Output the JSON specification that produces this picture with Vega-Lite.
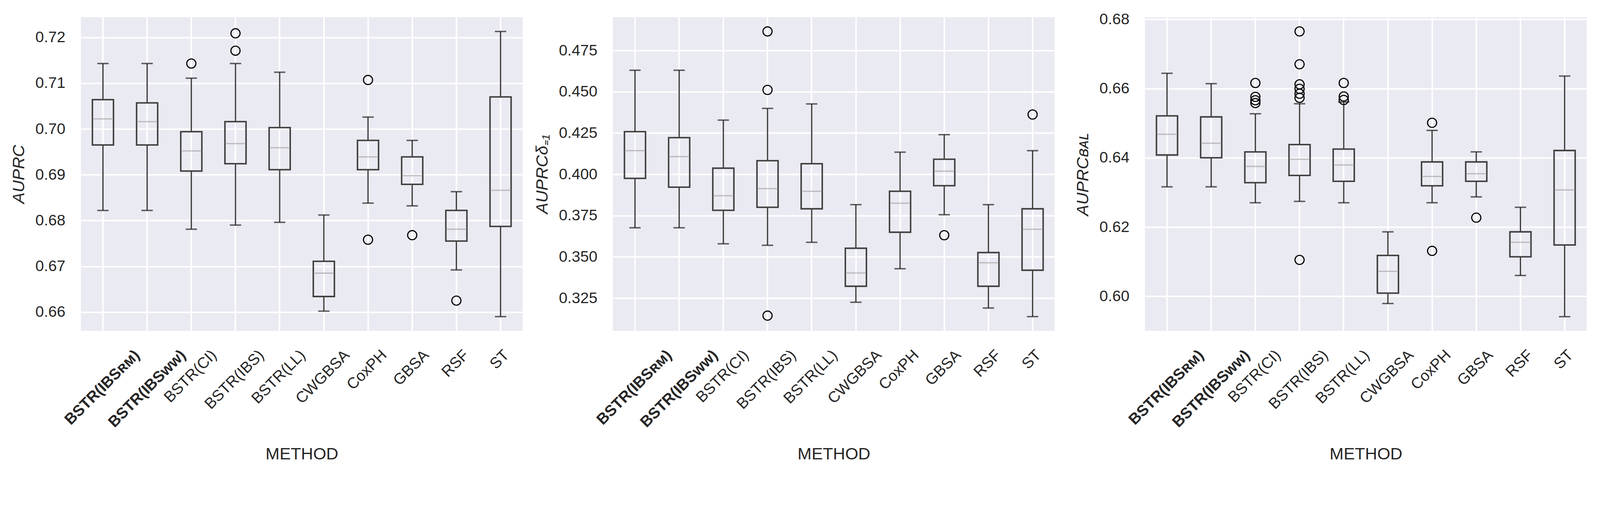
{
  "$schema": "https://vega.github.io/schema/vega-lite/v6.json",
  "background": "white",
  "padding": {"left": 27, "top": 29, "right": 5, "bottom": 5},
  "bounds": "flush",
  "spacing": 231,
  "config": {
    "font": "Liberation Sans",
    "view": {"stroke": null, "fill": "#EAEAF2"},
    "axis": {
      "grid": true, "gridColor": "#FFFFFF", "gridWidth": 3.75, "domain": false, "ticks": false,
      "labelFont": "Liberation Sans", "labelFontSize": 39.5, "labelColor": "#262626",
      "titleFont": "Liberation Sans", "titleFontSize": 43, "titleColor": "#262626", "titleFontWeight": "normal"
    },
    "axisX": {
      "grid": true, "bandPosition": 0.5, "labelAngle": -45, "labelAlign": "right", "labelBaseline": "top", "labelPadding": 42, "labelLimit": 0, "titlePadding": 94,
      "labelFontWeight": {"condition": {"test": "indexof(datum.value, 'IBSʀᴍ') >= 0 || indexof(datum.value, 'IBSᴡᴡ') >= 0", "value": "bold"}, "value": "normal"},
      "labelOffset": {"condition": [
        {"test": "indexof(datum.value, 'IBSʀᴍ') >= 0", "value": 74},
        {"test": "indexof(datum.value, 'IBSᴡᴡ') >= 0", "value": 79},
        {"test": "datum.value === 'BSTR(CI)'", "value": 45},
        {"test": "datum.value === 'BSTR(IBS)'", "value": 53},
        {"test": "datum.value === 'BSTR(LL)'", "value": 46},
        {"test": "datum.value === 'CWGBSA'", "value": 46},
        {"test": "datum.value === 'CoxPH'", "value": 28},
        {"test": "datum.value === 'GBSA'", "value": 23},
        {"test": "datum.value === 'RSF'", "value": 12}
      ], "value": 2}
    }
  },
  "datasets": {
    "s1": [
      {"method": "BSTR(IBSʀᴍ)", "lo": 0.6822, "q1": 0.6965, "med": 0.7022, "q3": 0.7064, "hi": 0.7143},
      {"method": "BSTR(IBSᴡᴡ)", "lo": 0.6822, "q1": 0.6965, "med": 0.7016, "q3": 0.7057, "hi": 0.7143},
      {"method": "BSTR(CI)", "lo": 0.6781, "q1": 0.6908, "med": 0.6952, "q3": 0.6994, "hi": 0.7111},
      {"method": "BSTR(IBS)", "lo": 0.6790, "q1": 0.6924, "med": 0.6968, "q3": 0.7016, "hi": 0.7143},
      {"method": "BSTR(LL)", "lo": 0.6796, "q1": 0.6911, "med": 0.6959, "q3": 0.7003, "hi": 0.7124},
      {"method": "CWGBSA", "lo": 0.6602, "q1": 0.6634, "med": 0.6685, "q3": 0.6711, "hi": 0.6812},
      {"method": "CoxPH", "lo": 0.6838, "q1": 0.6911, "med": 0.6939, "q3": 0.6975, "hi": 0.7026},
      {"method": "GBSA", "lo": 0.6832, "q1": 0.6879, "med": 0.6898, "q3": 0.6939, "hi": 0.6975},
      {"method": "RSF", "lo": 0.6692, "q1": 0.6755, "med": 0.6781, "q3": 0.6822, "hi": 0.6863},
      {"method": "ST", "lo": 0.6590, "q1": 0.6787, "med": 0.6866, "q3": 0.7070, "hi": 0.7213}
    ],
    "o1": [
      {"method": "BSTR(CI)", "v": 0.7143},
      {"method": "BSTR(IBS)", "v": 0.7171},
      {"method": "BSTR(IBS)", "v": 0.7209},
      {"method": "CoxPH", "v": 0.7107},
      {"method": "CoxPH", "v": 0.6758},
      {"method": "GBSA", "v": 0.6768},
      {"method": "RSF", "v": 0.6625}
    ],
    "s2": [
      {"method": "BSTR(IBSʀᴍ)", "lo": 0.3676, "q1": 0.3975, "med": 0.4143, "q3": 0.4258, "hi": 0.4630},
      {"method": "BSTR(IBSᴡᴡ)", "lo": 0.3676, "q1": 0.3922, "med": 0.4107, "q3": 0.4222, "hi": 0.4630},
      {"method": "BSTR(CI)", "lo": 0.3579, "q1": 0.3782, "med": 0.3870, "q3": 0.4037, "hi": 0.4328},
      {"method": "BSTR(IBS)", "lo": 0.3570, "q1": 0.3800, "med": 0.3913, "q3": 0.4082, "hi": 0.4399},
      {"method": "BSTR(LL)", "lo": 0.3588, "q1": 0.3791, "med": 0.3897, "q3": 0.4064, "hi": 0.4426},
      {"method": "CWGBSA", "lo": 0.3225, "q1": 0.3322, "med": 0.3402, "q3": 0.3552, "hi": 0.3816},
      {"method": "CoxPH", "lo": 0.3428, "q1": 0.3649, "med": 0.3825, "q3": 0.3897, "hi": 0.4134},
      {"method": "GBSA", "lo": 0.3755, "q1": 0.3931, "med": 0.4019, "q3": 0.4091, "hi": 0.4240},
      {"method": "RSF", "lo": 0.3190, "q1": 0.3322, "med": 0.3464, "q3": 0.3526, "hi": 0.3816},
      {"method": "ST", "lo": 0.3138, "q1": 0.3419, "med": 0.3667, "q3": 0.3791, "hi": 0.4143}
    ],
    "o2": [
      {"method": "BSTR(IBS)", "v": 0.4865},
      {"method": "BSTR(IBS)", "v": 0.4511},
      {"method": "BSTR(IBS)", "v": 0.3144},
      {"method": "GBSA", "v": 0.3631},
      {"method": "ST", "v": 0.4362}
    ],
    "s3": [
      {"method": "BSTR(IBSʀᴍ)", "lo": 0.6316, "q1": 0.6408, "med": 0.6468, "q3": 0.6521, "hi": 0.6644},
      {"method": "BSTR(IBSᴡᴡ)", "lo": 0.6316, "q1": 0.6400, "med": 0.6442, "q3": 0.6518, "hi": 0.6614},
      {"method": "BSTR(CI)", "lo": 0.6270, "q1": 0.6328, "med": 0.6375, "q3": 0.6417, "hi": 0.6527},
      {"method": "BSTR(IBS)", "lo": 0.6274, "q1": 0.6349, "med": 0.6396, "q3": 0.6438, "hi": 0.6556},
      {"method": "BSTR(LL)", "lo": 0.6270, "q1": 0.6332, "med": 0.6379, "q3": 0.6425, "hi": 0.6561},
      {"method": "CWGBSA", "lo": 0.5979, "q1": 0.6009, "med": 0.6072, "q3": 0.6118, "hi": 0.6186},
      {"method": "CoxPH", "lo": 0.6270, "q1": 0.6319, "med": 0.6346, "q3": 0.6388, "hi": 0.6479},
      {"method": "GBSA", "lo": 0.6287, "q1": 0.6332, "med": 0.6354, "q3": 0.6388, "hi": 0.6417},
      {"method": "RSF", "lo": 0.6060, "q1": 0.6114, "med": 0.6156, "q3": 0.6186, "hi": 0.6257},
      {"method": "ST", "lo": 0.5941, "q1": 0.6148, "med": 0.6307, "q3": 0.6421, "hi": 0.6636}
    ],
    "o3": [
      {"method": "BSTR(CI)", "v": 0.6616},
      {"method": "BSTR(CI)", "v": 0.6576},
      {"method": "BSTR(CI)", "v": 0.6566},
      {"method": "BSTR(CI)", "v": 0.6558},
      {"method": "BSTR(IBS)", "v": 0.6765},
      {"method": "BSTR(IBS)", "v": 0.6670},
      {"method": "BSTR(IBS)", "v": 0.6612},
      {"method": "BSTR(IBS)", "v": 0.6599},
      {"method": "BSTR(IBS)", "v": 0.6585},
      {"method": "BSTR(IBS)", "v": 0.6573},
      {"method": "BSTR(IBS)", "v": 0.6105},
      {"method": "BSTR(LL)", "v": 0.6616},
      {"method": "BSTR(LL)", "v": 0.6577},
      {"method": "BSTR(LL)", "v": 0.6567},
      {"method": "CoxPH", "v": 0.6501},
      {"method": "CoxPH", "v": 0.6131},
      {"method": "GBSA", "v": 0.6227}
    ]
  },
  "hconcat": [
    {
      "width": 1131, "height": 803,
      "encoding": {
        "x": {"field": "method", "type": "nominal", "sort": null,
          "scale": {"type": "band", "paddingInner": 0, "paddingOuter": 0, "domain": ["BSTR(IBSʀᴍ)", "BSTR(IBSᴡᴡ)", "BSTR(CI)", "BSTR(IBS)", "BSTR(LL)", "CWGBSA", "CoxPH", "GBSA", "RSF", "ST"]},
          "axis": {"title": "METHOD"}
        }
      },
      "layer": [
        {"data": {"name": "s1"}, "mark": {"type": "rule", "color": "#3f3f3f", "strokeWidth": 3.3},
          "encoding": {"y": {"field": "lo", "type": "quantitative", "scale": {"domain": [0.65589, 0.72442], "nice": false, "zero": false},
            "axis": {"title": "AUPRC", "titleFontStyle": "italic", "values": [0.66, 0.67, 0.68, 0.69, 0.70, 0.71, 0.72], "format": ".2f", "labelPadding": 40, "titlePadding": 20}},
            "y2": {"field": "q1"}}},
        {"data": {"name": "s1"}, "mark": {"type": "rule", "color": "#3f3f3f", "strokeWidth": 3.3},
          "encoding": {"y": {"field": "q3", "type": "quantitative"}, "y2": {"field": "hi"}}},
        {"data": {"name": "s1"}, "mark": {"type": "bar", "size": 54, "fillOpacity": 0, "stroke": "#3f3f3f", "strokeWidth": 3.8},
          "encoding": {"y": {"field": "q1", "type": "quantitative"}, "y2": {"field": "q3"}}},
        {"data": {"name": "s1"}, "mark": {"type": "tick", "size": 52, "thickness": 3.3, "color": "#a8a8a8"},
          "encoding": {"y": {"field": "med", "type": "quantitative"}}},
        {"data": {"name": "s1"}, "mark": {"type": "tick", "size": 29, "thickness": 3.6, "color": "#1e1e1e"},
          "encoding": {"y": {"field": "lo", "type": "quantitative"}}},
        {"data": {"name": "s1"}, "mark": {"type": "tick", "size": 29, "thickness": 3.6, "color": "#1e1e1e"},
          "encoding": {"y": {"field": "hi", "type": "quantitative"}}},
        {"data": {"name": "o1"}, "mark": {"type": "point", "shape": "circle", "filled": false, "size": 552, "strokeWidth": 2.8, "color": "#000000", "opacity": 1},
          "encoding": {"y": {"field": "v", "type": "quantitative"}}}
      ]
    },
    {
      "width": 1131, "height": 803,
      "encoding": {
        "x": {"field": "method", "type": "nominal", "sort": null,
          "scale": {"type": "band", "paddingInner": 0, "paddingOuter": 0, "domain": ["BSTR(IBSʀᴍ)", "BSTR(IBSᴡᴡ)", "BSTR(CI)", "BSTR(IBS)", "BSTR(LL)", "CWGBSA", "CoxPH", "GBSA", "RSF", "ST"]},
          "axis": {"title": "METHOD"}
        }
      },
      "layer": [
        {"data": {"name": "s2"}, "mark": {"type": "rule", "color": "#3f3f3f", "strokeWidth": 3.3},
          "encoding": {"y": {"field": "lo", "type": "quantitative", "scale": {"domain": [0.30517, 0.49513], "nice": false, "zero": false},
            "axis": {"title": "AUPRCδ₌₁", "titleFontStyle": "italic", "values": [0.325, 0.35, 0.375, 0.4, 0.425, 0.45, 0.475], "format": ".3f", "labelPadding": 40, "titlePadding": 20}},
            "y2": {"field": "q1"}}},
        {"data": {"name": "s2"}, "mark": {"type": "rule", "color": "#3f3f3f", "strokeWidth": 3.3},
          "encoding": {"y": {"field": "q3", "type": "quantitative"}, "y2": {"field": "hi"}}},
        {"data": {"name": "s2"}, "mark": {"type": "bar", "size": 54, "fillOpacity": 0, "stroke": "#3f3f3f", "strokeWidth": 3.8},
          "encoding": {"y": {"field": "q1", "type": "quantitative"}, "y2": {"field": "q3"}}},
        {"data": {"name": "s2"}, "mark": {"type": "tick", "size": 52, "thickness": 3.3, "color": "#a8a8a8"},
          "encoding": {"y": {"field": "med", "type": "quantitative"}}},
        {"data": {"name": "s2"}, "mark": {"type": "tick", "size": 29, "thickness": 3.6, "color": "#1e1e1e"},
          "encoding": {"y": {"field": "lo", "type": "quantitative"}}},
        {"data": {"name": "s2"}, "mark": {"type": "tick", "size": 29, "thickness": 3.6, "color": "#1e1e1e"},
          "encoding": {"y": {"field": "hi", "type": "quantitative"}}},
        {"data": {"name": "o2"}, "mark": {"type": "point", "shape": "circle", "filled": false, "size": 552, "strokeWidth": 2.8, "color": "#000000", "opacity": 1},
          "encoding": {"y": {"field": "v", "type": "quantitative"}}}
      ]
    },
    {
      "width": 1131, "height": 803,
      "encoding": {
        "x": {"field": "method", "type": "nominal", "sort": null,
          "scale": {"type": "band", "paddingInner": 0, "paddingOuter": 0, "domain": ["BSTR(IBSʀᴍ)", "BSTR(IBSᴡᴡ)", "BSTR(CI)", "BSTR(IBS)", "BSTR(LL)", "CWGBSA", "CoxPH", "GBSA", "RSF", "ST"]},
          "axis": {"title": "METHOD"}
        }
      },
      "layer": [
        {"data": {"name": "s3"}, "mark": {"type": "rule", "color": "#3f3f3f", "strokeWidth": 3.3},
          "encoding": {"y": {"field": "lo", "type": "quantitative", "scale": {"domain": [0.59, 0.6806], "nice": false, "zero": false},
            "axis": {"title": "AUPRCʙᴀʟ", "titleFontStyle": "italic", "values": [0.60, 0.62, 0.64, 0.66, 0.68], "format": ".2f", "labelPadding": 40, "titlePadding": 20}},
            "y2": {"field": "q1"}}},
        {"data": {"name": "s3"}, "mark": {"type": "rule", "color": "#3f3f3f", "strokeWidth": 3.3},
          "encoding": {"y": {"field": "q3", "type": "quantitative"}, "y2": {"field": "hi"}}},
        {"data": {"name": "s3"}, "mark": {"type": "bar", "size": 54, "fillOpacity": 0, "stroke": "#3f3f3f", "strokeWidth": 3.8},
          "encoding": {"y": {"field": "q1", "type": "quantitative"}, "y2": {"field": "q3"}}},
        {"data": {"name": "s3"}, "mark": {"type": "tick", "size": 52, "thickness": 3.3, "color": "#a8a8a8"},
          "encoding": {"y": {"field": "med", "type": "quantitative"}}},
        {"data": {"name": "s3"}, "mark": {"type": "tick", "size": 29, "thickness": 3.6, "color": "#1e1e1e"},
          "encoding": {"y": {"field": "lo", "type": "quantitative"}}},
        {"data": {"name": "s3"}, "mark": {"type": "tick", "size": 29, "thickness": 3.6, "color": "#1e1e1e"},
          "encoding": {"y": {"field": "hi", "type": "quantitative"}}},
        {"data": {"name": "o3"}, "mark": {"type": "point", "shape": "circle", "filled": false, "size": 552, "strokeWidth": 2.8, "color": "#000000", "opacity": 1},
          "encoding": {"y": {"field": "v", "type": "quantitative"}}}
      ]
    }
  ]
}
